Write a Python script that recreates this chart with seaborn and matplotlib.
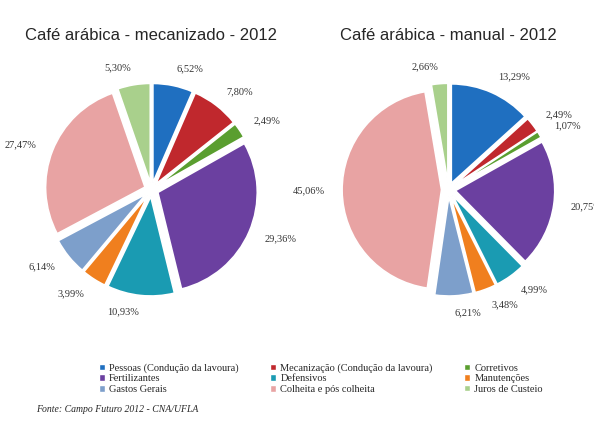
import matplotlib
matplotlib.use('Agg')
import matplotlib.pyplot as plt
import seaborn as sns
from matplotlib.patches import Patch

sns.set_style('white')

categories = ['Pessoas (Condução da lavoura)', 'Mecanização (Condução da lavoura)', 'Corretivos',
              'Fertilizantes', 'Defensivos', 'Manutenções',
              'Gastos Gerais', 'Colheita e pós colheita', 'Juros de Custeio']
mecanizado = [6.52, 7.80, 2.49, 29.36, 10.93, 3.99, 6.14, 27.47, 5.30]
manual = [13.29, 2.49, 1.07, 20.75, 4.99, 3.48, 6.21, 45.06, 2.66]
colors = ['#1f6fc0', '#c0282d', '#5a9e2f', '#6b40a0', '#1a9bb2', '#f07f1e',
          '#7d9fcb', '#e8a3a3', '#a9d08c']

fig = plt.figure(figsize=(5.94, 4.36), dpi=100)
fig.patch.set_facecolor('white')


def draw_pie(rect, values, title):
    ax = fig.add_axes(rect)
    ax.pie(values, colors=colors, startangle=90, counterclock=False,
           explode=[0.07] * len(values),
           labels=[f'{v:.2f}'.replace('.', ',') + '%' for v in values],
           labeldistance=1.17,
           wedgeprops=dict(edgecolor='white', linewidth=1.2),
           textprops=dict(family='Liberation Serif', fontsize=7.5, color='#333333'))
    ax.set_aspect('equal')
    ax.set_title(title, family='Liberation Sans', fontsize=12, pad=18)
    return ax


draw_pie([0.02, 0.28, 0.47, 0.57], mecanizado, 'Café arábica - mecanizado - 2012')
draw_pie([0.52, 0.28, 0.47, 0.57], manual, 'Café arábica - manual - 2012')

# legend is filled column by column, so reorder to read row by row
order = [0, 3, 6, 1, 4, 7, 2, 5, 8]
handles = [Patch(facecolor=colors[i], label=categories[i]) for i in order]
fig.legend(handles=handles, loc='lower center', bbox_to_anchor=(0.54, 0.075), ncol=3,
           frameon=False, prop=dict(family='Liberation Serif', size=7.5),
           handlelength=0.6, handleheight=0.6, columnspacing=3.0, labelspacing=0.15,
           handletextpad=0.4)
fig.text(0.06, 0.055, 'Fonte: Campo Futuro 2012 - CNA/UFLA', family='Liberation Serif',
         style='italic', fontsize=7)

fig.savefig('out.png', dpi=100)
